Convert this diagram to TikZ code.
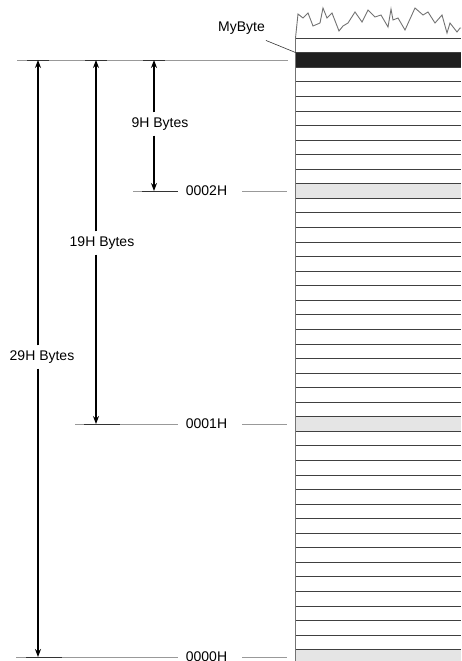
\documentclass[tikz,border=0pt]{standalone}
\usepackage{fontspec}
\setmainfont{Liberation Sans}
\usetikzlibrary{arrows.meta, positioning, calc}

\begin{document}
\begin{tikzpicture}[x=1pt, y=-1pt,
  lbl/.style={font=\fontsize{14}{16}\selectfont, inner xsep=1pt, inner ysep=5pt},
  arr/.style={line width=1.3pt, -{Stealth[length=8pt, width=6pt]}},
  lead/.style={draw=black!40, line width=0.9pt},
  tick/.style={draw=black!80, line width=0.9pt},
  row/.style={draw=black!75, line width=0.8pt},
  edge/.style={draw=black!55, line width=0.9pt}
]
\useasboundingbox (0,0) rectangle (461,661);
\begin{scope}
\clip (0,0) rectangle (461,661);
\fill[black!88] (295,52.72) rectangle (461,67.28);
\foreach \k in {9,25,41}
  \fill[black!10] (295,{52.72+14.56*\k}) rectangle (461,{67.28+14.56*\k});
\foreach \j in {0,...,43}
  \draw[row] (295,{38.16+14.56*\j}) -- (461,{38.16+14.56*\j});
\draw[edge] (461,28) -- plot coordinates {(460,28) (457,32) (450,23) (447,33) (442,15) (435,23)
  (428,12) (423,15) (415,8) (405,30) (398,18) (393,20) (391,9) (388,27) (381,15) (375,17)
  (368,10) (362,22) (355,12) (348,23) (343,26) (339,31) (332,13) (327,18) (323,8) (320,23)
  (313,26) (308,13) (303,18) (298,14) (295.5,38)} -- (295.5,661);
\end{scope}

\coordinate (byte0) at (296,52.7);
\node[lbl, anchor=east] (mb) at (266,28) {MyByte};
\draw[black!80, line width=0.6pt] ([yshift=-1pt]mb.south east) -- (byte0);

\coordinate (topl) at (17,60);
\coordinate (topr) at (288,60);
\draw[lead] (topl) -- (topr);

\node[lbl] (a2) at (206.5,191) {0002H};
\node[lbl] (a1) at (206.5,424) {0001H};
\node[lbl] (a0) at (206.5,657) {0000H};
\foreach \n/\y/\x in {a2/191/133, a1/424/75, a0/657/16} {
  \coordinate (\n l) at (\x,\y);
  \coordinate (\n r) at (287,\y);
  \draw[lead] (\n l) -- ([xshift=-7pt]\n.west);
  \draw[lead] ([xshift=14pt]\n.east) -- (\n r);
}

\coordinate (t9) at (154,60);
\coordinate (t19) at (96,60);
\coordinate (t29) at (38,60);
\coordinate (b9) at (154,191);
\coordinate (b19) at (96,424);
\coordinate (b29) at (38,657);
\foreach \c in {t9,t19,t29}
  \draw[tick] ([xshift=-11pt]\c) -- ([xshift=11pt]\c);
\foreach \c in {b9,b19,b29}
  \draw[tick] ([xshift=-12pt]\c) -- ([xshift=24pt]\c);

\node[lbl] (l9) at (160,124) {9H Bytes};
\node[lbl] (l19) at (102,243) {19H Bytes};
\node[lbl] (l29) at (42,357) {29H Bytes};
\draw[arr] (l9.north -| t9) -- (t9);
\draw[arr] (l9.south -| b9) -- (b9);
\draw[arr] (l19.north -| t19) -- (t19);
\draw[arr] (l19.south -| b19) -- (b19);
\draw[arr] (l29.north -| t29) -- (t29);
\draw[arr] (l29.south -| b29) -- (b29);
\end{tikzpicture}
\end{document}
